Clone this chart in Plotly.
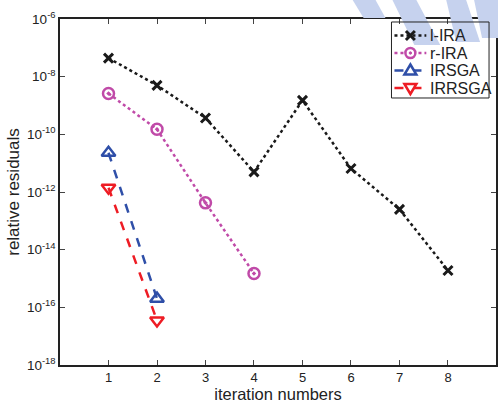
import plotly.graph_objects as go

iters_lira = [1, 2, 3, 4, 5, 6, 7, 8]
lira = [4.4e-8, 5.0e-9, 3.7e-10, 5.0e-12, 1.5e-9, 6.5e-12, 2.5e-13, 1.9e-15]
iters_rira = [1, 2, 3, 4]
rira = [2.6e-9, 1.5e-10, 4.2e-13, 1.5e-15]
iters_irsga = [1, 2]
irsga = [2.3e-11, 2.0e-16]
iters_irrsga = [1, 2]
irrsga = [1.4e-12, 3.5e-17]

series_names = ["l-IRA", "r-IRA", "IRSGA", "IRRSGA"]
series_colors = ["#1a1a1a", "#c04aa8", "#2f4fa8", "#ee1c24"]

ytick_vals = [1e-18, 1e-16, 1e-14, 1e-12, 1e-10, 1e-8, 1e-6]
ytick_text = ["10<sup>-18</sup>", "10<sup>-16</sup>", "10<sup>-14</sup>", "10<sup>-12</sup>",
              "10<sup>-10</sup>", "10<sup>-8</sup>", "10<sup>-6</sup>"]
xtick_vals = [1, 2, 3, 4, 5, 6, 7, 8]

FONT = "Liberation Sans, Arial, sans-serif"
fig = go.Figure()
fig.add_trace(go.Scatter(x=iters_lira, y=lira, name=series_names[0], mode="lines+markers",
                         line=dict(color=series_colors[0], width=2.5, dash="dot"),
                         marker=dict(symbol="x-thin-open", size=9, line=dict(width=3, color=series_colors[0]))))
fig.add_trace(go.Scatter(x=iters_rira, y=rira, name=series_names[1], mode="lines+markers",
                         line=dict(color=series_colors[1], width=2.5, dash="dot"),
                         marker=dict(symbol="circle-dot", size=11, color="rgba(0,0,0,0)",
                                     line=dict(width=2.5, color=series_colors[1]))))
fig.add_trace(go.Scatter(x=iters_irsga, y=irsga, name=series_names[2], mode="lines+markers",
                         line=dict(color=series_colors[2], width=2.5, dash="dash"),
                         marker=dict(symbol="triangle-up-open", size=12, line=dict(width=2.5, color=series_colors[2]))))
fig.add_trace(go.Scatter(x=iters_irrsga, y=irrsga, name=series_names[3], mode="lines+markers",
                         line=dict(color=series_colors[3], width=2.5, dash="dash"),
                         marker=dict(symbol="triangle-down-open", size=12, line=dict(width=2.5, color=series_colors[3]))))

# pixel coords -> paper
L, R, T, B = 60, 498, 19, 365
def px(x, y):
    return (x - L) / (R - L), (B - y) / (B - T)
def pathstr(pts, close=True):
    p = [px(*q) for q in pts]
    s = "M " + " L ".join(f"{a:.5f},{b:.5f}" for a, b in p)
    return s + (" Z" if close else "")

# watermark (approximate logo stripes)
stripes = [
    [(354, 0), (377, 0), (387, 18), (365, 18)],
    [(394, 0), (418, 0), (442, 45), (416, 45)],
    [(448, 0), (468, 0), (482, 42), (458, 42)],
    [(476, 0), (500, 0), (500, 38), (484, 38)],
]
for s in stripes:
    fig.add_shape(type="path", path=pathstr(s), xref="paper", yref="paper",
                  fillcolor="rgb(198,210,238)", line=dict(width=0), layer="above")

# custom legend drawn on top
box = [(393, 22), (491, 22), (491, 98), (393, 98)]
fig.add_shape(type="path", path=pathstr(box), xref="paper", yref="paper",
              line=dict(color="#222", width=1), fillcolor="rgba(0,0,0,0)", layer="above")
rows = [35.5, 53, 70.5, 88]
dashes = ["dot", "dot", "dash", "dash"]
x0, x1, xm = 396, 428, 412
for i, (yy, nm, col, ds) in enumerate(zip(rows, series_names, series_colors, dashes)):
    a = px(x0, yy); b = px(x1, yy)
    fig.add_shape(type="line", x0=a[0], y0=a[1], x1=b[0], y1=b[1], xref="paper", yref="paper",
                  line=dict(color=col, width=2.5, dash=ds), layer="above")
    if i == 0:
        d = 4.5
        fig.add_shape(type="path", path=pathstr([(xm - d, yy - d), (xm + d, yy + d)], False),
                      xref="paper", yref="paper", line=dict(color=col, width=3), layer="above")
        fig.add_shape(type="path", path=pathstr([(xm - d, yy + d), (xm + d, yy - d)], False),
                      xref="paper", yref="paper", line=dict(color=col, width=3), layer="above")
    elif i == 1:
        c0 = px(xm - 5, yy - 5); c1 = px(xm + 5, yy + 5)
        fig.add_shape(type="circle", x0=c0[0], y0=c0[1], x1=c1[0], y1=c1[1], xref="paper", yref="paper",
                      line=dict(color=col, width=2.5), fillcolor="white", layer="above")
        c0 = px(xm - 1.2, yy - 1.2); c1 = px(xm + 1.2, yy + 1.2)
        fig.add_shape(type="circle", x0=c0[0], y0=c0[1], x1=c1[0], y1=c1[1], xref="paper", yref="paper",
                      line=dict(color=col, width=1), fillcolor=col, layer="above")
    elif i == 2:
        fig.add_shape(type="path", path=pathstr([(xm, yy - 6), (xm + 6, yy + 4), (xm - 6, yy + 4)]),
                      xref="paper", yref="paper", line=dict(color=col, width=2.5),
                      fillcolor="white", layer="above")
    else:
        fig.add_shape(type="path", path=pathstr([(xm, yy + 6), (xm + 6, yy - 4), (xm - 6, yy - 4)]),
                      xref="paper", yref="paper", line=dict(color=col, width=2.5),
                      fillcolor="white", layer="above")
    t = px(431, yy)
    fig.add_annotation(x=t[0], y=t[1], xref="paper", yref="paper", text=nm, showarrow=False,
                       xanchor="left", yanchor="middle", xshift=-1,
                       font=dict(size=16, family=FONT, color="#222"))

fig.update_layout(
    width=498, height=403,
    margin=dict(l=60, r=0, t=19, b=38),
    plot_bgcolor="white", paper_bgcolor="white",
    font=dict(family=FONT, size=13, color="#222"),
    showlegend=False,
    xaxis=dict(range=[0, 8.99], tickvals=xtick_vals, ticks="inside", ticklen=5,
               showline=True, linecolor="#222", linewidth=1.5, mirror="ticks",
               showgrid=False, zeroline=False, tickfont=dict(size=13),
               title=dict(text="iteration numbers", font=dict(size=16.5), standoff=5)),
    yaxis=dict(type="log", range=[-18, -6], tickvals=ytick_vals, ticktext=ytick_text,
               ticks="inside", ticklen=5, showline=True, linecolor="#222", linewidth=1.5,
               mirror="ticks", showgrid=False, zeroline=False, tickfont=dict(size=13.5),
               title=dict(text="relative residuals", font=dict(size=17), standoff=3)),
)

fig.write_html("out.html")
